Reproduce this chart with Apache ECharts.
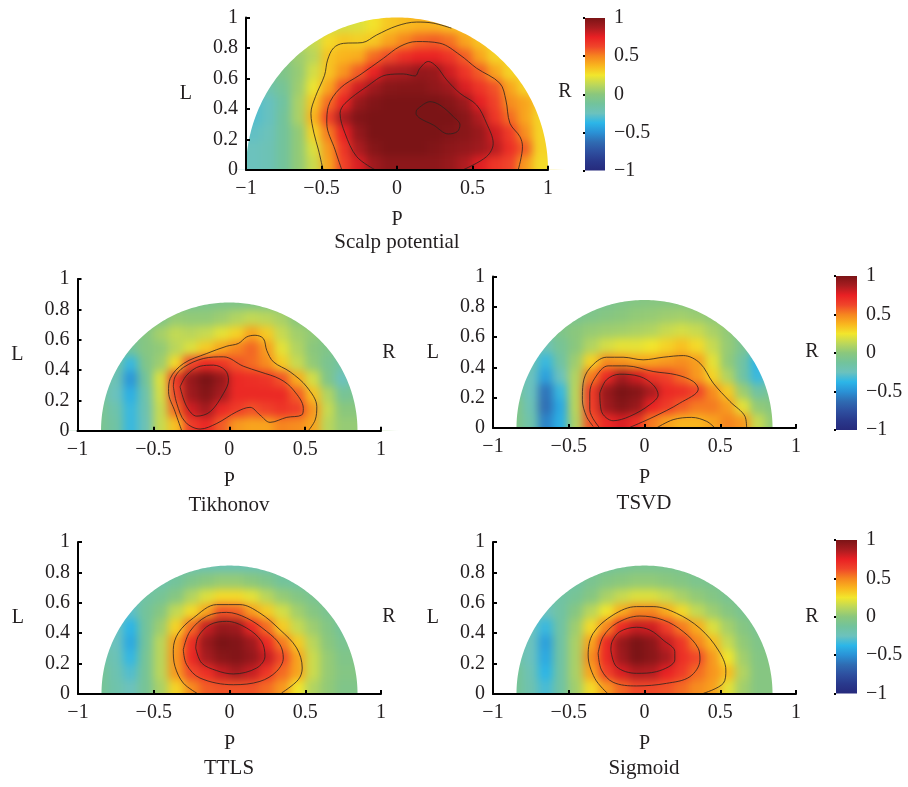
<!DOCTYPE html>
<html><head><meta charset="utf-8">
<style>html,body{margin:0;padding:0;background:#fff}#c{width:908px;height:787px}</style>
<script src="https://cdn.jsdelivr.net/npm/echarts@6/dist/echarts.min.js"></script>
</head><body><div id="c"></div>
<script>
const xCenters=[-.95,-.85,-.75,-.65,-.55,-.45,-.35,-.25,-.15,-.05,.05,.15,.25,.35,.45,.55,.65,.75,.85,.95];
const yCenters=[.05,.15,.25,.35,.45,.55,.65,.75,.85,.95];
const colorStops=['#262a7c','#29398c','#2e50a0','#2f6cb3','#2a92d6','#2cb6e8','#6cc2bd','#72c39c','#8ac77d','#bcd75a','#f2e62c','#f9b61e','#f6851f','#f0452a','#e92024','#a81c20','#7b1416'];

const scalpValues=[
[-.25,-.22,-.12,.02,.16,.42,.64,.78,.9,.95,.95,.95,.95,.92,.86,.77,.68,.63,.45,.28],
[-.25,-.22,-.12,.02,.2,.45,.68,.87,.97,1,1,1,.98,.95,.93,.9,.84,.7,.58,.3],
[-.27,-.24,-.12,.02,.3,.52,.75,.93,1,1,1,1,1,.98,.96,.92,.8,.66,.48,.3],
[-.3,-.26,-.12,.08,.38,.64,.88,.98,1,1,1,1,1,1,.96,.86,.68,.55,.42,.3],
[-.3,-.26,-.14,.08,.33,.55,.74,.92,.98,1,1,1,1,.97,.91,.76,.64,.48,.42,.32],
[-.2,-.18,-.1,.05,.24,.42,.62,.8,.9,.96,.97,.97,.94,.9,.78,.68,.6,.42,.3,.3],
[-.1,-.1,-.05,.03,.18,.34,.46,.58,.74,.86,.88,.93,.92,.8,.68,.58,.42,.3,.3,.3],
[-.05,-.05,-.02,.05,.12,.34,.38,.4,.55,.62,.7,.74,.74,.68,.58,.42,.3,.3,.3,.3],
[.05,.05,.08,.1,.15,.28,.33,.31,.33,.42,.5,.56,.58,.54,.42,.34,.3,.3,.3,.3],
[.12,.12,.12,.12,.14,.16,.18,.2,.26,.33,.36,.38,.38,.35,.33,.3,.3,.3,.3,.3]];
const tikhonovValues=[
[-.08,-.08,-.15,-.35,-.22,.15,.35,.65,.72,.58,.45,.42,.42,.5,.48,.42,.12,.03,.03,.03],
[-.08,-.08,-.18,-.35,-.2,.15,.55,.8,.88,.72,.66,.6,.64,.68,.65,.46,.15,0,0,0],
[-.1,-.1,-.25,-.4,-.18,.18,.62,.9,.97,.88,.72,.72,.72,.72,.58,.35,.1,-.1,-.08,-.08],
[-.1,-.1,-.22,-.48,-.12,.2,.66,.92,1,.92,.72,.7,.68,.6,.4,.18,-.05,-.25,-.12,-.1],
[-.12,-.12,-.15,-.35,-.05,.05,.28,.62,.72,.68,.6,.55,.48,.32,.15,.02,-.08,-.15,-.1,-.1],
[-.1,-.1,-.1,-.12,-.02,.02,.12,.2,.32,.42,.5,.56,.44,.22,.1,0,-.05,-.1,-.1,-.1],
[-.1,-.1,-.1,-.08,-.02,.07,.14,.12,.15,.22,.3,.42,.32,.15,.06,.02,-.05,-.1,-.1,-.1],
[-.18,-.18,-.18,-.18,-.1,-.05,.03,.02,.02,.05,.1,.14,.12,.08,0,-.05,-.1,-.1,-.1,-.1],
[-.15,-.15,-.15,-.15,-.15,-.12,-.1,-.08,-.06,-.05,-.05,-.05,-.05,-.06,-.08,-.1,-.12,-.12,-.12,-.12]];
const tsvdValues=[
[-.05,-.05,-.18,-.55,-.4,.1,.6,.72,.78,.7,.52,.43,.38,.38,.42,.5,.45,.15,.02,.02],
[-.05,-.05,-.22,-.62,-.42,.12,.65,.9,.97,.92,.74,.66,.58,.52,.52,.44,.22,.02,-.02,-.02],
[-.1,-.1,-.25,-.6,-.35,.12,.66,.92,1,.97,.87,.72,.7,.63,.48,.32,.05,-.15,-.1,-.1],
[-.15,-.15,-.25,-.45,-.25,.1,.52,.72,.88,.8,.68,.64,.55,.45,.3,.1,-.15,-.35,-.25,-.25],
[-.2,-.2,-.2,-.35,-.15,.05,.3,.48,.46,.42,.42,.45,.48,.44,.22,.02,-.15,-.38,-.25,-.25],
[-.2,-.2,-.18,-.22,-.1,0,.1,.18,.22,.22,.25,.3,.35,.28,.15,.03,-.08,-.2,-.2,-.2],
[-.15,-.15,-.12,-.1,-.05,0,.03,.05,.06,.08,.1,.15,.18,.15,.08,.02,-.1,-.15,-.15,-.15],
[-.18,-.18,-.15,-.15,-.1,-.08,-.05,-.02,0,.02,.03,.05,.06,.04,.01,-.02,-.05,-.1,-.1,-.1],
[-.15,-.15,-.15,-.15,-.14,-.12,-.1,-.08,-.05,-.03,-.02,-.02,-.03,-.05,-.06,-.08,-.1,-.1,-.1,-.1]];
const ttlsValues=[
[-.1,-.1,-.18,-.25,-.1,.08,.3,.48,.58,.6,.6,.6,.55,.45,.25,.1,.02,-.05,-.05,-.05],
[-.1,-.1,-.2,-.3,-.1,.12,.45,.62,.7,.82,.88,.82,.68,.55,.42,.16,.03,-.03,-.03,-.03],
[-.15,-.15,-.22,-.36,-.1,.12,.46,.72,.88,.96,.98,.93,.82,.62,.42,.16,.03,-.05,-.05,-.05],
[-.2,-.2,-.25,-.42,-.12,.12,.44,.7,.92,1,.98,.9,.72,.52,.32,.12,0,-.08,-.08,-.08],
[-.2,-.2,-.25,-.38,-.12,.05,.3,.55,.82,.92,.9,.72,.55,.32,.15,.05,-.03,-.12,-.12,-.12],
[-.22,-.22,-.25,-.28,-.12,-.02,.14,.28,.42,.6,.58,.44,.32,.18,.06,-.02,-.08,-.15,-.15,-.15],
[-.25,-.25,-.25,-.25,-.15,-.1,-.02,.1,.2,.28,.28,.22,.12,.03,-.03,-.08,-.12,-.18,-.18,-.18],
[-.22,-.22,-.22,-.22,-.18,-.18,-.12,-.05,0,.03,.03,0,-.05,-.12,-.15,-.18,-.2,-.2,-.2,-.2],
[-.2,-.2,-.2,-.2,-.2,-.2,-.2,-.2,-.2,-.2,-.2,-.2,-.2,-.2,-.2,-.2,-.2,-.2,-.2,-.2]];
const sigmoidValues=[
[-.1,-.1,-.2,-.32,-.15,.06,.28,.45,.56,.62,.62,.6,.55,.48,.43,.22,.06,-.02,-.02,-.02],
[-.1,-.1,-.22,-.38,-.15,.08,.42,.64,.78,.86,.85,.75,.66,.55,.46,.36,.1,-.02,-.02,-.02],
[-.15,-.15,-.25,-.42,-.15,.08,.48,.72,.9,1,.96,.88,.7,.62,.45,.25,.06,-.03,-.03,-.03],
[-.18,-.18,-.25,-.45,-.15,.08,.42,.72,.92,1,.95,.82,.68,.5,.36,.15,.02,-.05,-.05,-.05],
[-.2,-.2,-.25,-.35,-.15,.05,.28,.5,.72,.82,.8,.65,.52,.4,.2,.07,-.02,-.08,-.08,-.08],
[-.2,-.2,-.22,-.25,-.15,-.02,.12,.25,.4,.5,.5,.4,.28,.14,.05,-.02,-.08,-.1,-.1,-.1],
[-.2,-.2,-.2,-.2,-.15,-.1,-.02,.08,.15,.2,.2,.15,.08,.02,-.03,-.08,-.1,-.1,-.1,-.1],
[-.2,-.2,-.2,-.2,-.18,-.15,-.08,-.03,0,.02,.02,0,-.03,-.07,-.08,-.1,-.1,-.1,-.1,-.1],
[-.16,-.16,-.16,-.16,-.16,-.15,-.14,-.12,-.1,-.08,-.08,-.08,-.09,-.1,-.1,-.1,-.1,-.1,-.1,-.1]];

const scalpContours=[
[[-.49,0],[-.52,.13],[-.55,.24],[-.57,.37],[-.54,.48],[-.48,.62],[-.46,.72],[-.42,.8],[-.355,.83],[-.23,.835],[-.135,.885],[0,.945],[.13,.97],[.24,.963],[.36,.93]],
[[-.366,0],[-.41,.13],[-.465,.305],[-.455,.415],[-.377,.535],[-.245,.623],[-.09,.732],[.02,.81],[.13,.842],[.284,.831],[.417,.754],[.527,.667],[.681,.568],[.721,.458],[.748,.305],[.814,.217],[.831,.151],[.803,0]],
[[-.146,0],[-.267,.086],[-.344,.239],[-.377,.371],[-.344,.436],[-.2,.546],[-.068,.623],[.042,.629],[.119,.616],[.152,.667],[.207,.711],[.262,.678],[.329,.59],[.417,.502],[.527,.425],[.593,.305],[.637,.173],[.593,.086],[.439,0]],
[[.13,.393],[.218,.447],[.284,.425],[.373,.349],[.417,.294],[.399,.25],[.34,.235],[.24,.294],[.152,.338],[.126,.371],[.13,.393]]];
const tikhonovContours=[
[[-.313,0],[-.357,.125],[-.4,.257],[-.389,.344],[-.301,.443],[-.148,.509],[-.016,.557],[.06,.575],[.115,.618],[.17,.629],[.225,.607],[.247,.53],[.291,.454],[.401,.388],[.511,.289],[.577,.158],[.566,.07],[.521,0]],
[[-.368,.29],[-.346,.18],[-.291,.059],[-.192,.011],[-.082,.048],[.049,.125],[.137,.154],[.203,.103],[.269,.055],[.379,.088],[.477,.103],[.488,.147],[.423,.268],[.335,.34],[.203,.388],[.093,.425],[-.038,.487],[-.17,.476],[-.302,.417],[-.357,.355],[-.368,.29]],
[[-.324,.289],[-.28,.158],[-.214,.096],[-.126,.125],[-.038,.246],[-.005,.333],[-.027,.399],[-.104,.432],[-.192,.425],[-.28,.366],[-.324,.289]]];
const tsvdContours=[
[[.674,0],[.663,.077],[.564,.175],[.454,.296],[.366,.428],[.256,.478],[.123,.467],[-.009,.45],[-.141,.467],[-.251,.467],[-.361,.395],[-.405,.296],[-.41,.186],[-.383,.077],[-.339,.011]],
[[-.295,0],[-.361,.121],[-.361,.23],[-.328,.329],[-.24,.41],[-.119,.41],[.057,.373],[.211,.351],[.322,.307],[.355,.257],[.233,.164],[.057,.072],[-.097,.004]],
[[-.295,.23],[-.284,.11],[-.207,.048],[-.097,.077],[.035,.154],[.09,.219],[.057,.285],[-.031,.34],[-.163,.355],[-.251,.318],[-.295,.23]],
[[.079,0],[.189,.055],[.311,.07],[.41,.044],[.465,0]]];
const ttlsContours=[
[[-.206,0],[-.305,.072],[-.36,.182],[-.371,.292],[-.338,.401],[-.239,.5],[-.085,.588],[.069,.588],[.2,.533],[.333,.423],[.443,.303],[.48,.171],[.454,.094],[.344,.007]],
[[-.305,.292],[-.283,.193],[-.195,.105],[.025,.061],[.201,.083],[.311,.149],[.355,.237],[.333,.325],[.245,.412],[.113,.5],[-.019,.537],[-.151,.511],[-.261,.412],[-.305,.292]],
[[-.223,.303],[-.184,.204],[-.085,.154],[.025,.132],[.179,.171],[.234,.248],[.212,.346],[.113,.434],[-.019,.478],[-.129,.456],[-.206,.379],[-.223,.303]]];
const sigmoidContours=[
[[-.24,0],[-.328,.103],[-.372,.257],[-.339,.399],[-.207,.52],[-.053,.575],[.057,.575],[.211,.531],[.366,.432],[.487,.289],[.537,.158],[.52,.07],[.388,.004]],
[[-.306,.268],[-.284,.158],[-.207,.077],[-.053,.053],[.145,.07],[.3,.114],[.366,.224],[.355,.3],[.256,.41],[.123,.487],[-.031,.513],[-.185,.465],[-.273,.377],[-.306,.268]],
[[-.222,.289],[-.185,.18],[-.053,.136],[.079,.147],[.2,.224],[.2,.279],[.123,.355],[.035,.421],[-.053,.439],[-.163,.41],[-.214,.344],[-.222,.289]]];

const FONT='"Liberation Serif",serif', FS=20, INK='#231f20';
const minus=v=>String(v).replace('-','\u2212');
const panels=[
 {name:'Scalp potential',values:scalpValues,contours:scalpContours,radius:1,left:246,right:548,top:17.5,bottom:169.7,rx:565,ry:92,tx:397,ty:242},
 {name:'Tikhonov',values:tikhonovValues,contours:tikhonovContours,radius:.845,left:77.5,right:381,top:279,bottom:430.7,rx:389,ry:353,tx:229,ty:505},
 {name:'TSVD',values:tsvdValues,contours:tsvdContours,radius:.845,left:493,right:796,top:276.5,bottom:428,rx:812,ry:352,tx:644,ty:503},
 {name:'TTLS',values:ttlsValues,contours:ttlsContours,radius:.845,left:78,right:381,top:542,bottom:694,rx:389,ry:617,tx:229,ty:768},
 {name:'Sigmoid',values:sigmoidValues,contours:sigmoidContours,radius:.845,left:493,right:796,top:542,bottom:694,rx:812,ry:617,tx:644,ty:768}];
const bars=[{left:585,right:605,top:18,bottom:170.5},{left:836,right:857,top:276,bottom:430},{left:836,right:857,top:540,bottom:693.5}];
const labelStyle={fontFamily:FONT,fontSize:FS,color:INK};
const grid=[],xAxis=[],yAxis=[],series=[],title=[],heatIdx=[];

panels.forEach((p,i)=>{
 grid.push({left:p.left,top:p.top,width:p.right-p.left,height:p.bottom-p.top});
 const common={zlevel:1,z:6,splitLine:{show:false},
  axisLine:{show:true,onZero:false,lineStyle:{color:'#000',width:2}},
  axisTick:{show:true,inside:true,length:4,lineStyle:{color:'#000',width:2}},
  axisLabel:{...labelStyle,formatter:minus}};
 xAxis.push({...common,gridIndex:i,type:'value',min:-1,max:1,interval:.5,name:'P',nameLocation:'middle',nameGap:40,nameTextStyle:labelStyle,
   axisLabel:{...common.axisLabel,margin:9,hideOverlap:false}});
 yAxis.push({...common,gridIndex:i,type:'value',min:0,max:1,interval:.2,name:'L',nameLocation:'middle',nameGap:54,nameRotate:0,nameTextStyle:labelStyle,
   axisLabel:{...common.axisLabel,margin:8}});
 const data=[];
 p.values.forEach((row,r)=>row.forEach((v,c)=>data.push([xCenters[c],yCenters[r],v,c,r])));
 const lastRow=p.values.length-1;
 heatIdx.push(series.length);
 series.push({type:'custom',name:p.name,xAxisIndex:i,yAxisIndex:i,zlevel:0,silent:true,animation:false,
  encode:{x:0,y:1},data,
  renderItem(params,api){
   const x=api.value(0),y=api.value(1),c=api.value(3),r=api.value(4);
   const a=api.coord([x-.05-(c===0?.07:0),y-.05-(r===0?.07:0)]);
   const b=api.coord([x+.05+(c===19?.07:0),y+.05+(r===lastRow?.07:0)]);
   return {type:'rect',shape:{x:Math.floor(a[0]),y:Math.floor(b[1]),width:Math.ceil(b[0]-a[0])+1,height:Math.ceil(a[1]-b[1])+1},style:{fill:api.visual('color')}};
  }});
 // white surround that leaves only the half disc of radius p.radius visible
 series.push({type:'custom',xAxisIndex:i,yAxisIndex:i,zlevel:1,z:2,silent:true,animation:false,clip:false,
  encode:{x:0,y:1},data:[[0,0]],
  renderItem(params,api){
   const R=p.radius,E=1.28,D=-.28,T=1.2;
   const top=[api.coord([-E,0])];
   for(let k=0;k<=180;k++){const t=Math.PI*(1-k/180);top.push(api.coord([R*Math.cos(t),R*Math.sin(t)]));}
   top.push(api.coord([E,0]),api.coord([E,T]),api.coord([-E,T]));
   const low=[api.coord([-E,0]),api.coord([E,0]),api.coord([E,D]),api.coord([-E,D])];
   return {type:'group',children:[
    {type:'polygon',shape:{points:top},style:{fill:'#fff'}},
    {type:'polygon',shape:{points:low},style:{fill:'#fff'}}]};
  }});
 p.contours.forEach(line=>series.push({type:'line',xAxisIndex:i,yAxisIndex:i,zlevel:1,z:3,data:line,smooth:.35,showSymbol:false,silent:true,animation:false,clip:false,lineStyle:{color:'#2b2320',width:.8}}));
 title.push({text:p.name,left:p.tx,top:p.ty,padding:0,textAlign:'center',textVerticalAlign:'middle',zlevel:1,textStyle:{...labelStyle,fontSize:21,fontWeight:'normal'}});
 title.push({text:'R',left:p.rx,top:p.ry,padding:0,textAlign:'center',textVerticalAlign:'middle',zlevel:1,textStyle:{...labelStyle,fontWeight:'normal'}});
});

const barRange=[-1,1];
bars.forEach(b=>{
 const i=grid.length;
 grid.push({left:b.left,top:b.top,width:b.right-b.left,height:b.bottom-b.top});
 xAxis.push({gridIndex:i,type:'value',min:0,max:1,show:false});
 yAxis.push({gridIndex:i,type:'value',min:-1,max:1,interval:.5,position:'right',zlevel:1,z:6,splitLine:{show:false},
  axisLine:{show:false},axisTick:{show:true,inside:true,length:2,lineStyle:{color:'#000',width:2}},
  axisLabel:{...labelStyle,margin:9,formatter:minus}});
 series.push({type:'custom',xAxisIndex:i,yAxisIndex:i,zlevel:1,z:4,silent:true,animation:false,encode:{y:0},data:[barRange],
  renderItem(params,api){
   const a=api.coord([0,barRange[0]]),c=api.coord([1,barRange[1]]);
   const stops=colorStops.map((color,k)=>({offset:1-k/(colorStops.length-1),color})).reverse();
   return {type:'rect',shape:{x:a[0],y:c[1],width:c[0]-a[0],height:a[1]-c[1]},
    style:{fill:new echarts.graphic.LinearGradient(0,0,0,1,stops)}};
  }});
});

const chart=echarts.init(document.getElementById('c'),null,{renderer:'canvas',width:908,height:787});
chart.setOption({animation:false,grid,xAxis,yAxis,series,title,
 visualMap:{show:false,type:'continuous',min:-1,max:1,dimension:2,seriesIndex:heatIdx,inRange:{color:colorStops}}});
const layers=document.querySelectorAll('#c canvas');
if(layers.length>1)layers[0].style.filter='blur(4.5px)';
</script></body></html>
